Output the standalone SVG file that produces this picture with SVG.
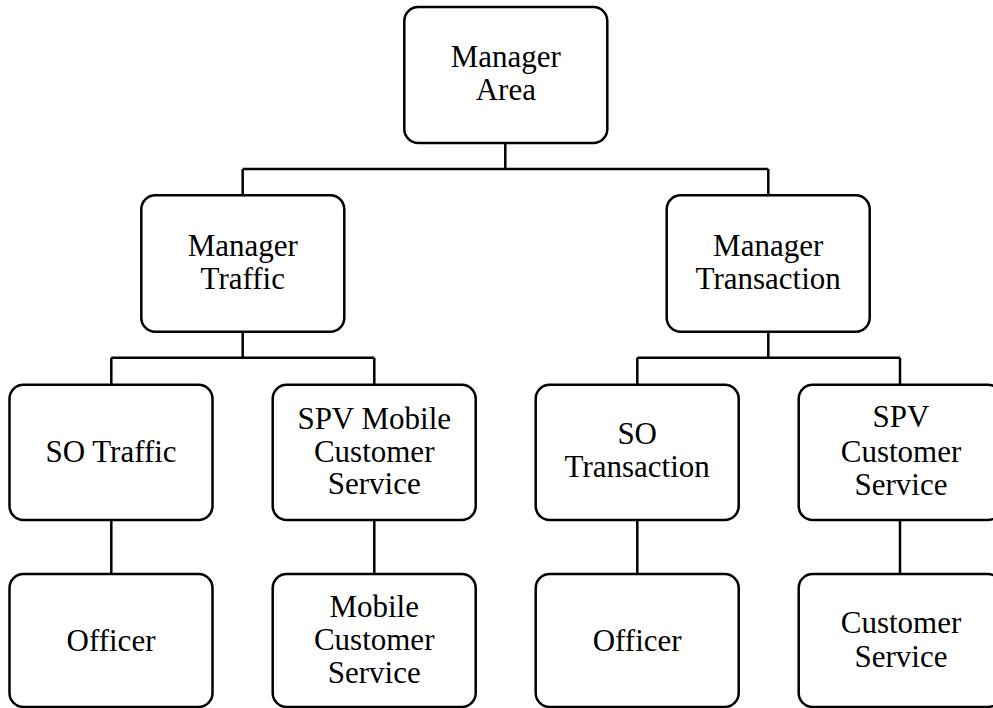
<svg xmlns="http://www.w3.org/2000/svg" width="993" height="708" viewBox="0 0 993 708">
<style>
.box{fill:#fff;stroke:#000;stroke-width:2.5}
.lbl{font-family:"Liberation Serif","Times New Roman",serif;font-size:31px;fill:#000;text-anchor:middle}
.con{fill:none;stroke:#000;stroke-width:2.5}
</style>
<rect width="993" height="708" fill="#fff"/>
<g id="connectors">
<path class="con" d="M505.3,143 V169 M242.7,169 H768.3 M242.7,169 V195.3 M768.3,169 V195.3"/>
<path class="con" d="M242.7,331.7 V357.7 M111.3,357.7 H374.3 M111.3,357.7 V384.7 M374.3,357.7 V384.7"/>
<path class="con" d="M768.3,331.7 V357.7 M637.3,357.7 H900 M637.3,357.7 V384.7 M900,357.7 V384.7"/>
<path class="con" d="M111.3,520 V574 M374.3,520 V574 M637.3,520 V574 M900,520 V574"/>
</g>
<g id="manager-area">
<rect class="box" x="404.3" y="7" width="203" height="136" rx="14"/>
<text class="lbl" x="505.8" y="66.7">Manager</text>
<text class="lbl" x="505.8" y="100">Area</text>
</g>
<g id="manager-traffic">
<rect class="box" x="141.3" y="195.3" width="203" height="136.4" rx="14"/>
<text class="lbl" x="242.8" y="256">Manager</text>
<text class="lbl" x="242.8" y="289.3">Traffic</text>
</g>
<g id="manager-transaction">
<rect class="box" x="666.7" y="195.3" width="203" height="136.4" rx="14"/>
<text class="lbl" x="768.2" y="256">Manager</text>
<text class="lbl" x="768.2" y="289.3">Transaction</text>
</g>
<g id="so-traffic">
<rect class="box" x="9.5" y="384.7" width="203" height="135.3" rx="14"/>
<text class="lbl" x="111" y="461.7">SO Traffic</text>
</g>
<g id="spv-mobile-cs">
<rect class="box" x="272.7" y="384.7" width="203" height="135.3" rx="14"/>
<text class="lbl" x="374.2" y="429.3">SPV Mobile</text>
<text class="lbl" x="374.2" y="461.7">Customer</text>
<text class="lbl" x="374.2" y="494">Service</text>
</g>
<g id="so-transaction">
<rect class="box" x="535.7" y="384.7" width="203" height="135.3" rx="14"/>
<text class="lbl" x="637.2" y="444">SO</text>
<text class="lbl" x="637.2" y="477.3">Transaction</text>
</g>
<g id="spv-cs">
<rect class="box" x="798.7" y="384.7" width="203" height="135.3" rx="14"/>
<text class="lbl" x="901" y="427.3">SPV</text>
<text class="lbl" x="901" y="461.7">Customer</text>
<text class="lbl" x="901" y="495">Service</text>
</g>
<g id="officer-traffic">
<rect class="box" x="9.5" y="574" width="203" height="133" rx="14"/>
<text class="lbl" x="111" y="651">Officer</text>
</g>
<g id="mobile-cs">
<rect class="box" x="272.7" y="574" width="203" height="133" rx="14"/>
<text class="lbl" x="374.2" y="616.7">Mobile</text>
<text class="lbl" x="374.2" y="650">Customer</text>
<text class="lbl" x="374.2" y="683.3">Service</text>
</g>
<g id="officer-transaction">
<rect class="box" x="535.7" y="574" width="203" height="133" rx="14"/>
<text class="lbl" x="637.2" y="651">Officer</text>
</g>
<g id="customer-service">
<rect class="box" x="798.7" y="574" width="203" height="133" rx="14"/>
<text class="lbl" x="901" y="633.3">Customer</text>
<text class="lbl" x="901" y="666.7">Service</text>
</g>
</svg>
